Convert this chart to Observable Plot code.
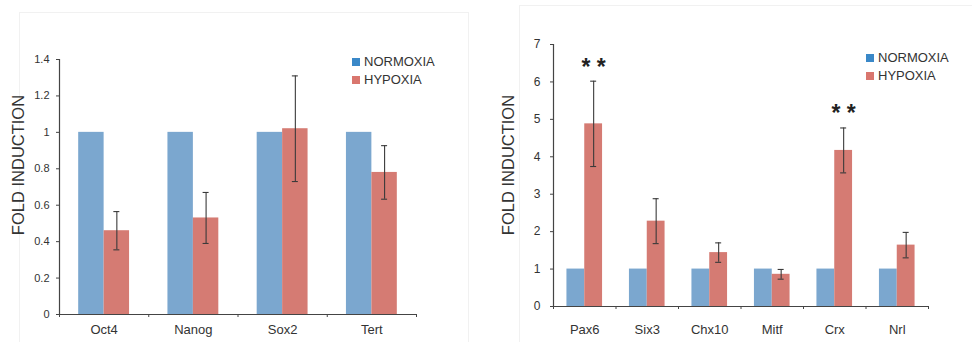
<!DOCTYPE html>
<html><head><meta charset="utf-8">
<script src="https://cdn.jsdelivr.net/npm/d3@7"></script>
<script src="https://cdn.jsdelivr.net/npm/@observablehq/plot@0.6"></script>
<style>
body{margin:0;background:#fff;font-family:"Liberation Sans",Arial,Helvetica,sans-serif;}
#wrap{position:relative;width:972px;height:342px;overflow:hidden;background:#fff;}
.box{position:absolute;border:1px solid #f1f1f1;}
.panel{position:absolute;top:0;}
.legend{position:absolute;font-size:13px;color:#333;line-height:18px;white-space:nowrap;}
.legend .sw{display:inline-block;width:8px;height:8px;margin-right:4px;vertical-align:0px;}
.ylab{position:absolute;width:200px;height:20px;line-height:20px;margin-left:-100px;margin-top:-10px;text-align:center;font-size:16.5px;color:#333;transform:rotate(-90deg);white-space:nowrap;}
</style></head><body>
<div id="wrap">
  <div class="box" style="left:19px;top:12px;width:448px;height:340px;"></div>
  <div class="box" style="left:519px;top:5px;width:460px;height:350px;"></div>
  <div class="panel" id="left" style="left:0px;"></div>
  <div class="panel" id="right" style="left:490px;"></div>
  <div class="legend" id="legL" style="left:352px;top:53px;"></div>
  <div class="legend" id="legR" style="left:866px;top:49px;"></div>
  <div class="ylab" id="ylabL" style="left:18px;top:165px;"></div>
  <div class="ylab" id="ylabR" style="left:508px;top:165px;"></div>
</div>
<script>
// ---- data ----
const seriesNames = ["NORMOXIA", "HYPOXIA"];
const barColors = ["#7ba7cf", "#d57b73"];
const legendColors = ["#3a88c8", "#d9766e"];

const genesA = ["Oct4", "Nanog", "Sox2", "Tert"];
const normoxiaA = [1, 1, 1, 1];
const hypoxiaA = [0.46, 0.53, 1.02, 0.78];
const errA = [0.105, 0.14, 0.29, 0.147];
const starsA = ["", "", "", ""];
const yTicksA = [0, 0.2, 0.4, 0.6, 0.8, 1, 1.2, 1.4];

const genesB = ["Pax6", "Six3", "Chx10", "Mitf", "Crx", "Nrl"];
const normoxiaB = [1, 1, 1, 1, 1, 1];
const hypoxiaB = [4.88, 2.28, 1.44, 0.86, 4.17, 1.64];
const errB = [1.14, 0.6, 0.26, 0.13, 0.6, 0.34];
const starsB = ["* *", "", "", "", "* *", ""];
const yTicksB = [0, 1, 2, 3, 4, 5, 6, 7];

const yLabel = "FOLD INDUCTION";

// ---- chart builder ----
function chart(genes, norm, hyp, err, stars, yTicks, o) {
  const rows = genes.map((g, i) => ({g, i, n: norm[i], h: hyp[i], e: err[i], s: stars[i]}));
  const inset = 0.215, bw = 0.285; // group layout within each category band
  const cx = d => d.i + inset + 1.5 * bw;
  const ink = "#3a3a3a";
  return Plot.plot({
    width: o.width, height: 342,
    marginLeft: o.ml, marginRight: o.mr, marginTop: o.mt, marginBottom: o.mb,
    style: {fontFamily: '"Liberation Sans", Arial, Helvetica, sans-serif', color: "#333", background: "transparent"},
    x: {type: "linear", domain: [0, genes.length]},
    y: {domain: [0, yTicks[yTicks.length - 1]]},
    marks: [
      Plot.rectY(rows, {x1: d => d.i + inset, x2: d => d.i + inset + bw, y: "n", fill: barColors[0]}),
      Plot.rectY(rows, {x1: d => d.i + inset + bw, x2: d => d.i + inset + 2 * bw, y: "h", fill: barColors[1]}),
      Plot.ruleX(rows, {x: cx, y1: d => d.h - d.e, y2: d => d.h + d.e, stroke: ink, strokeWidth: 1.1}),
      Plot.ruleY(rows, {x1: cx, x2: cx, y: d => d.h - d.e, insetLeft: -3, insetRight: -3, stroke: ink, strokeWidth: 1.1}),
      Plot.ruleY(rows, {x1: cx, x2: cx, y: d => d.h + d.e, insetLeft: -3, insetRight: -3, stroke: ink, strokeWidth: 1.1}),
      Plot.text(rows.filter(d => d.s), {x: cx, y: d => d.h + d.e, text: "s", dy: o.starDy, fontSize: 23, fill: "#222", fontWeight: "bold"}),
      Plot.ruleY([0], {stroke: "#444", strokeWidth: 1.2}),
      Plot.ruleX([0], {y1: 0, y2: yTicks[yTicks.length - 1], stroke: "#444", strokeWidth: 1.2}),
      Plot.axisY({ticks: yTicks, tickSize: 3, tickPadding: o.ytp, fontSize: o.yfs, stroke: "#444",
        tickFormat: d => String(d), label: null}),
      Plot.axisX({ticks: d3.range(genes.length + 1), tickSize: 3, tickFormat: () => "", stroke: "#444", label: null}),
      Plot.axisX({ticks: genes.map((g, i) => i + 0.5), tickSize: 0, tickPadding: o.xtp, fontSize: 13,
        tickFormat: d => genes[Math.floor(d)], label: null})
    ]
  });
}

document.getElementById("left").appendChild(chart(genesA, normoxiaA, hypoxiaA, errA, starsA, yTicksA,
  {width: 480, ml: 59, mr: 64, mt: 59, mb: 28, ytp: 7, yfs: 11, xtp: 10, starDy: -14}));

document.getElementById("right").appendChild(chart(genesB, normoxiaB, hypoxiaB, errB, starsB, yTicksB,
  {width: 482, ml: 63, mr: 44, mt: 44, mb: 36, ytp: 10, yfs: 12, xtp: 18, starDy: -14}));

document.getElementById("ylabL").textContent = yLabel;
document.getElementById("ylabR").textContent = yLabel;

for (const id of ["legL", "legR"]) {
  const el = document.getElementById(id);
  seriesNames.forEach((name, k) => {
    const row = document.createElement("div");
    const sw = document.createElement("span");
    sw.className = "sw";
    sw.style.background = legendColors[k];
    row.appendChild(sw);
    row.appendChild(document.createTextNode(name));
    el.appendChild(row);
  });
}
</script>
</body></html>
